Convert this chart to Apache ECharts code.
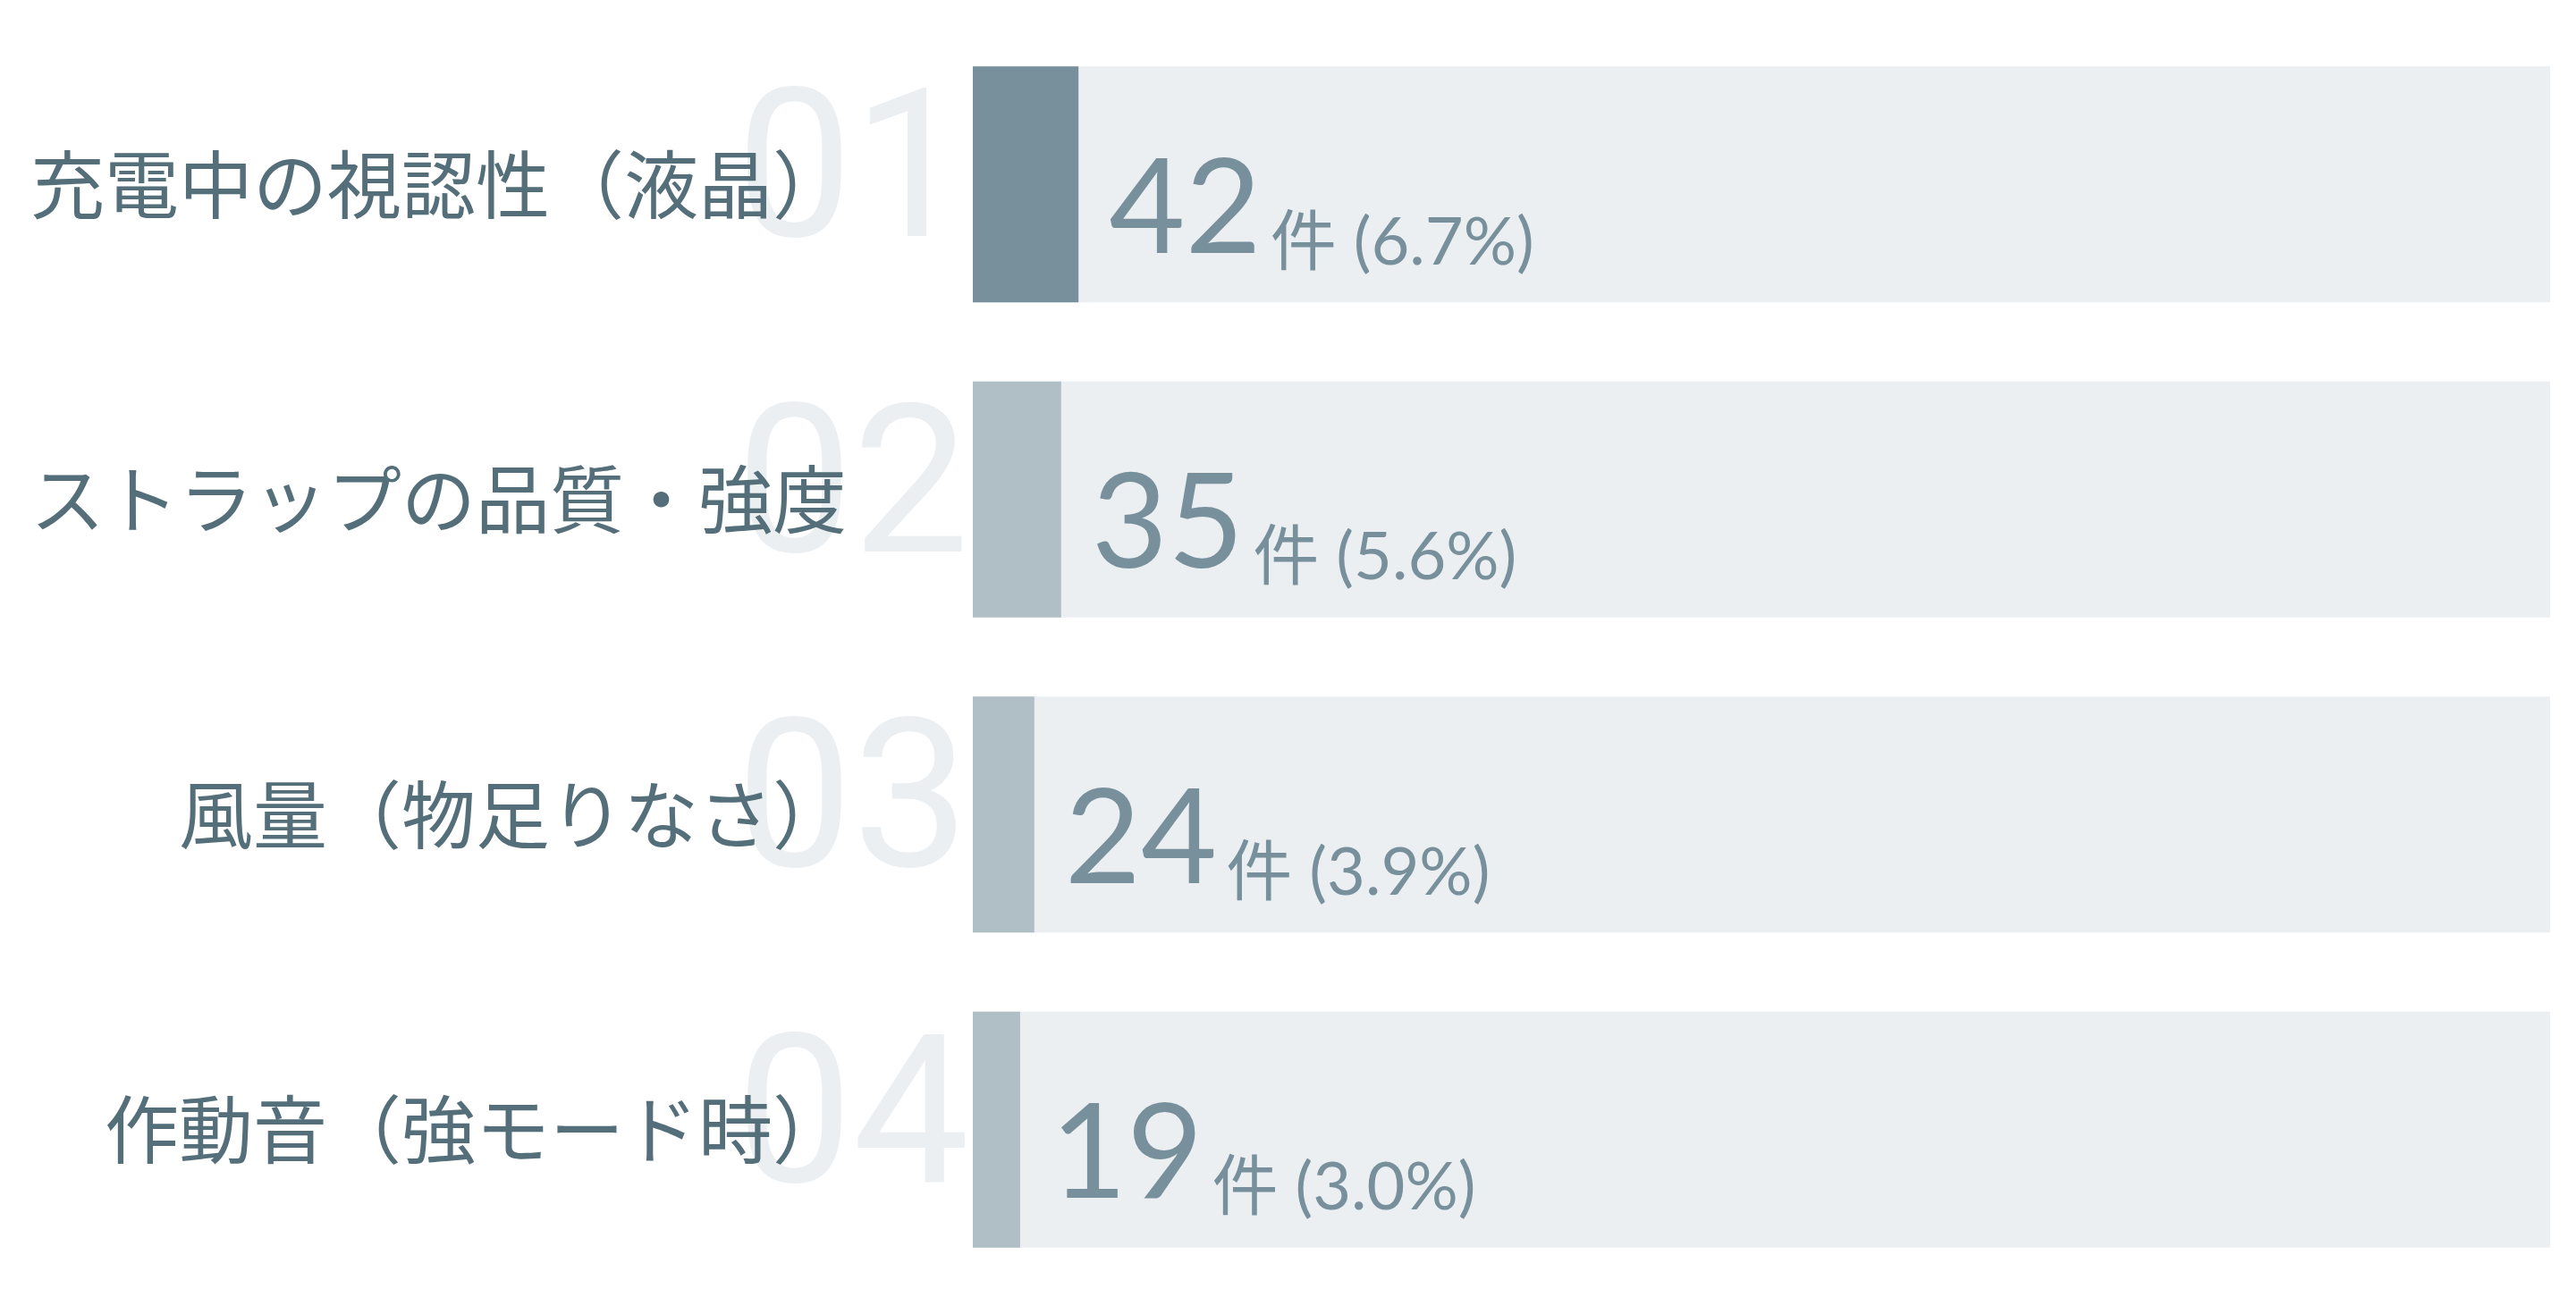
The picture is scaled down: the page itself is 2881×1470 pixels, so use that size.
<!DOCTYPE html>
<html>
<head>
<meta charset="utf-8">
<script src="https://cdn.jsdelivr.net/npm/echarts@6/dist/echarts.min.js"></script>
<style>
html,body{margin:0;padding:0;background:#ffffff;}
#chart{width:2881px;height:1470px;}
</style>
</head>
<body>
<div id="chart"></div>
<script>
const categories = ['充電中の視認性（液晶）', 'ストラップの品質・強度', '風量（物足りなさ）', '作動音（強モード時）'];
const rankLabels = ['01', '02', '03', '04'];
const counts = [42, 35, 24, 19];
const percents = [6.7, 5.6, 3.9, 3.0];

const chart = echarts.init(document.getElementById('chart'), null, {renderer: 'canvas'});
chart.setOption({
  backgroundColor: '#ffffff',
  animation: false,
  grid: {left: 1088, right: 29, top: 30, bottom: 30},
  xAxis: {type: 'value', min: 0, max: 100, show: false},
  yAxis: [
    {
      type: 'category', inverse: true, data: rankLabels, position: 'left', z: 0,
      axisLine: {show: false}, axisTick: {show: false}, splitLine: {show: false},
      axisLabel: {
        margin: 4, color: '#EBEFF2', fontSize: 232, fontWeight: 'normal',
        fontFamily: 'Roboto, sans-serif', padding: [0, 0, 42, 0]
      }
    },
    {
      type: 'category', inverse: true, data: categories, position: 'left', z: 1,
      axisLine: {show: false}, axisTick: {show: false}, splitLine: {show: false},
      axisLabel: {
        margin: 141, color: '#546E7A', fontSize: 83,
        fontFamily: '"Noto Sans CJK JP", sans-serif', padding: [0, 0, 8, 0]
      }
    }
  ],
  series: [{
    type: 'bar',
    yAxisIndex: 0,
    data: percents,
    barWidth: 264,
    showBackground: true,
    backgroundStyle: {color: '#EBEFF2'},
    itemStyle: {
      color: function (p) { return p.dataIndex === 0 ? '#78909C' : '#B0BEC5'; }
    },
    label: {
      show: true,
      position: 'right',
      distance: 34,
      offset: [0, 29],
      color: '#78909C',
      formatter: function (p) {
        return '{n|' + counts[p.dataIndex] + '}{u|件 (' + percents[p.dataIndex].toFixed(1) + '%)}';
      },
      rich: {
        n: {fontSize: 147, lineHeight: 147, verticalAlign: 'bottom', color: '#78909C', fontFamily: 'Lato, Roboto, sans-serif'},
        u: {fontSize: 74, lineHeight: 56, verticalAlign: 'bottom', color: '#78909C', padding: [0, 0, 0, 10], fontFamily: 'Lato, "Noto Sans CJK JP", sans-serif'}
      }
    }
  }]
});
</script>
</body>
</html>
